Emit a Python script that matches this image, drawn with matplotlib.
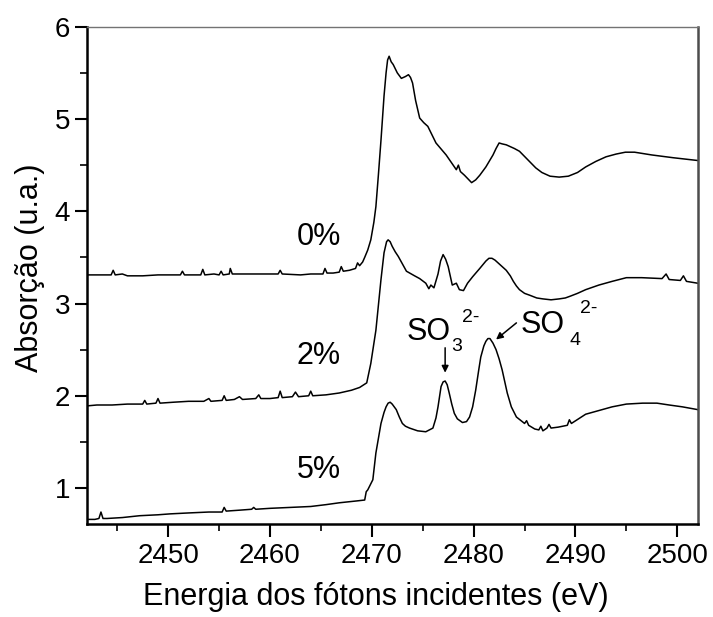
import matplotlib
matplotlib.use('Agg')
import matplotlib.pyplot as plt
from matplotlib.ticker import MultipleLocator

plt.rcParams['font.family'] = ['Liberation Sans', 'DejaVu Sans']

# energia (eV) e absorcao
e_0 = [2442.0, 2443.5, 2444.4, 2444.6, 2444.8, 2445.5, 2446.0, 2447.5, 2449.0,
       2451.2, 2451.4, 2451.6, 2452.5, 2453.2, 2453.4, 2453.6, 2454.5, 2455.0,
       2455.2, 2455.4, 2456.0, 2456.1, 2456.3, 2458.0, 2460.0, 2460.8, 2461.0,
       2461.2, 2463.0, 2464.0, 2465.2, 2465.4, 2465.6, 2466.2, 2466.8, 2467.0,
       2467.2, 2467.8, 2468.4, 2468.6, 2468.8, 2469.1, 2469.3, 2469.6, 2469.9,
       2470.2, 2470.4, 2470.65, 2470.9, 2471.2, 2471.4, 2471.55, 2471.7, 2471.9,
       2472.1, 2472.5, 2472.9, 2473.3, 2473.6, 2473.8, 2474.0, 2474.3, 2474.7,
       2475.1, 2475.5, 2476.3, 2477.3, 2478.3, 2478.5, 2478.7, 2479.1, 2479.8,
       2480.2, 2480.6, 2481.2, 2481.9, 2482.2, 2482.5, 2482.8, 2483.2, 2483.6,
       2484.0, 2484.5, 2485.3, 2486.1, 2486.7, 2487.5, 2488.4, 2489.3, 2490.2,
       2491.0, 2492.0, 2493.0, 2494.0, 2494.9, 2495.8, 2497.5, 2499.6, 2502.0]
a_0 = [3.31, 3.31, 3.31, 3.36, 3.31, 3.32, 3.30, 3.30, 3.31,
       3.31, 3.35, 3.31, 3.31, 3.31, 3.37, 3.31, 3.32, 3.31,
       3.35, 3.31, 3.32, 3.38, 3.32, 3.32, 3.32, 3.32, 3.36,
       3.32, 3.31, 3.32, 3.32, 3.38, 3.33, 3.33, 3.34, 3.40,
       3.35, 3.36, 3.38, 3.44, 3.41, 3.45, 3.50, 3.58, 3.69,
       3.88, 4.05, 4.40, 4.77, 5.25, 5.50, 5.64, 5.68, 5.62,
       5.59, 5.50, 5.44, 5.46, 5.48, 5.45, 5.39, 5.20, 5.01,
       4.96, 4.92, 4.74, 4.61, 4.45, 4.50, 4.43, 4.39, 4.31,
       4.34, 4.39, 4.48, 4.61, 4.68, 4.74, 4.73, 4.72, 4.70,
       4.68, 4.65, 4.56, 4.47, 4.42, 4.38, 4.37, 4.38, 4.42,
       4.48, 4.54, 4.59, 4.62, 4.64, 4.64, 4.61, 4.58, 4.55]

e_2 = [2442.0, 2443.0, 2444.5, 2446.0, 2447.5, 2447.7, 2447.9, 2448.8, 2449.0,
       2449.2, 2450.5, 2452.0, 2453.5, 2454.0, 2454.2, 2455.3, 2455.5, 2455.7,
       2456.5, 2457.0, 2457.3, 2458.6, 2458.9, 2459.1, 2460.0, 2460.8, 2461.0,
       2461.2, 2462.2, 2462.5, 2462.8, 2463.8, 2464.0, 2464.2, 2465.5, 2466.8,
       2468.0, 2468.8, 2469.5, 2469.9, 2470.4, 2470.9, 2471.2, 2471.45, 2471.6,
       2471.8, 2472.0, 2472.3, 2472.6, 2473.4, 2474.2, 2474.7, 2475.3, 2475.6,
       2475.8, 2476.1, 2476.5, 2476.75, 2477.0, 2477.25, 2477.5, 2477.7, 2477.9,
       2478.3, 2478.6, 2479.0, 2479.4, 2479.9, 2480.6, 2481.2, 2481.5, 2481.8,
       2482.1, 2482.4, 2482.8, 2483.2, 2483.6, 2483.9, 2484.2, 2484.5, 2485.0,
       2485.5, 2486.2, 2486.8, 2487.6, 2488.4, 2489.0, 2489.5, 2490.2, 2491.0,
       2492.3, 2493.6, 2495.0, 2496.5, 2498.5, 2498.9, 2499.2, 2500.3, 2500.6,
       2500.9, 2502.0]
a_2 = [1.89, 1.90, 1.90, 1.91, 1.91, 1.95, 1.91, 1.92, 1.97,
       1.92, 1.93, 1.94, 1.94, 1.97, 1.94, 1.95, 2.00, 1.95,
       1.96, 1.99, 1.96, 1.97, 2.01, 1.97, 1.97, 1.98, 2.05,
       1.98, 1.99, 2.04, 1.99, 2.00, 2.05, 2.00, 2.01, 2.03,
       2.06, 2.09, 2.14, 2.35, 2.71, 3.26, 3.55, 3.67, 3.69,
       3.67, 3.62, 3.56, 3.51, 3.35, 3.30, 3.27, 3.22, 3.16,
       3.20, 3.17, 3.32, 3.46, 3.53, 3.48, 3.40, 3.30, 3.20,
       3.22, 3.15, 3.14, 3.22, 3.29, 3.38, 3.46, 3.49, 3.49,
       3.47, 3.44, 3.40, 3.36, 3.30, 3.24, 3.19, 3.15, 3.11,
       3.09, 3.06, 3.05, 3.04, 3.05, 3.06, 3.08, 3.11, 3.15,
       3.20, 3.24, 3.28, 3.28, 3.27, 3.32, 3.26, 3.25, 3.30,
       3.24, 3.22]

e_5 = [2442.0, 2442.8, 2443.2, 2443.4, 2443.6, 2444.0, 2445.5, 2447.2, 2449.0,
       2450.2, 2452.0, 2454.0, 2455.3, 2455.5, 2455.7, 2457.0, 2458.2, 2458.4,
       2458.6, 2460.0, 2462.0, 2464.0, 2465.5, 2466.8, 2468.5, 2469.3, 2469.45,
       2469.6, 2470.1, 2470.4, 2470.9, 2471.2, 2471.4, 2471.6, 2471.8, 2472.0,
       2472.4, 2472.7, 2473.0, 2473.3, 2473.7, 2474.5, 2475.3, 2476.0, 2476.3,
       2476.5, 2476.8, 2477.0, 2477.2, 2477.4, 2477.6, 2477.85, 2478.1, 2478.4,
       2478.9, 2479.3, 2479.6, 2479.9, 2480.2, 2480.5, 2480.7, 2481.0, 2481.2,
       2481.4, 2481.6, 2481.9, 2482.2, 2482.5, 2482.8, 2483.0, 2483.3, 2483.7,
       2484.2, 2485.0, 2485.2, 2485.4, 2486.0, 2486.4, 2486.6, 2486.8, 2487.2,
       2487.4, 2487.6, 2488.3, 2489.2, 2489.4, 2489.6, 2491.0, 2492.3, 2493.6,
       2495.0, 2496.6, 2498.0, 2499.2, 2500.5, 2502.0]
a_5 = [0.66, 0.66, 0.67, 0.74, 0.67, 0.67, 0.68, 0.70, 0.71,
       0.72, 0.73, 0.74, 0.74, 0.79, 0.75, 0.76, 0.77, 0.79,
       0.77, 0.78, 0.79, 0.80, 0.82, 0.84, 0.86, 0.87, 0.96,
       0.98, 1.09, 1.38, 1.70, 1.82, 1.88, 1.92, 1.93, 1.91,
       1.85, 1.77, 1.70, 1.67, 1.65, 1.62, 1.61, 1.65, 1.76,
       1.88, 2.10, 2.15, 2.16, 2.12, 2.03, 1.91, 1.81, 1.75,
       1.71, 1.72, 1.77, 1.88, 2.06, 2.28, 2.42, 2.54, 2.59,
       2.62, 2.62, 2.57, 2.50, 2.40, 2.28, 2.18, 2.03, 1.88,
       1.77, 1.70, 1.73, 1.68, 1.64, 1.63, 1.67, 1.62, 1.65,
       1.69, 1.65, 1.66, 1.68, 1.74, 1.70, 1.80, 1.84, 1.88,
       1.91, 1.92, 1.92, 1.90, 1.88, 1.85]

fig = plt.figure(figsize=(7.13, 6.17), dpi=100)
ax = fig.add_axes([0.1216, 0.1507, 0.8569, 0.806])

for e, a in [(e_0, a_0), (e_2, a_2), (e_5, a_5)]:
    ax.plot(e, a, color='black', lw=1.1)

ax.set_xlim(2442, 2502)
ax.set_ylim(0.61, 6)
ax.xaxis.set_major_locator(MultipleLocator(10))
ax.xaxis.set_minor_locator(MultipleLocator(5))
ax.yaxis.set_major_locator(MultipleLocator(1))
ax.yaxis.set_minor_locator(MultipleLocator(0.5))
ax.tick_params(which='major', direction='out', length=9, width=1.5, labelsize=20, pad=5)
ax.tick_params(axis='y', which='major', pad=3)
ax.tick_params(which='minor', direction='out', length=5, width=1.2)
ax.tick_params(top=False, right=False, which='both')

for s in ['left', 'bottom']:
    ax.spines[s].set_linewidth(1.8)
ax.spines['top'].set_linewidth(1.0)
ax.spines['top'].set_color('0.45')
ax.spines['right'].set_linewidth(1.8)
ax.spines['right'].set_color('0.3')

ax.set_xlabel('Energia dos fótons incidentes (eV)', fontsize=22)
ax.set_ylabel('Absorção (u.a.)', fontsize=22)
ax.xaxis.set_label_coords(0.473, -0.117)
ax.yaxis.set_label_coords(-0.068, 0.515)

ax.text(2464.8, 3.72, '0%', fontsize=22, ha='center', va='center')
ax.text(2464.8, 2.43, '2%', fontsize=22, ha='center', va='center')
ax.text(2464.8, 1.20, '5%', fontsize=22, ha='center', va='center')

ax.text(2473.4, 2.605, 'SO', fontsize=22)
ax.text(2477.8, 2.48, '3', fontsize=14)
ax.text(2478.9, 2.80, '2-', fontsize=14)
ax.text(2484.65, 2.68, 'SO', fontsize=22)
ax.text(2489.4, 2.55, '4', fontsize=14)
ax.text(2490.4, 2.90, '2-', fontsize=14)

arrow = dict(arrowstyle='-|>', color='black', lw=1.1, mutation_scale=10, shrinkA=0, shrinkB=0)
ax.annotate('', xy=(2477.2, 2.25), xytext=(2477.2, 2.52), arrowprops=arrow)
ax.annotate('', xy=(2482.2, 2.61), xytext=(2484.2, 2.79), arrowprops=arrow)

fig.savefig('out.png', dpi=100)
